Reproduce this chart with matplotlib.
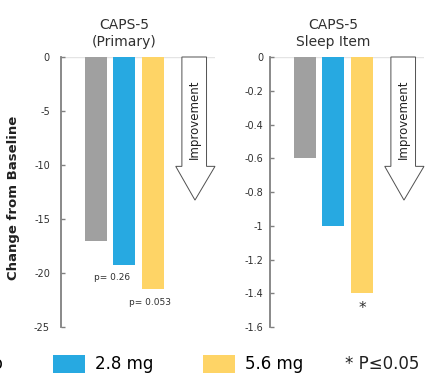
import matplotlib
matplotlib.use('Agg')
import matplotlib.pyplot as plt
from matplotlib.patches import Polygon

# data
groups = ['Placebo', '2.8 mg', '5.6 mg']
colors = ['#a0a0a0', '#27a9e1', '#fed466']
caps_primary = [-17.0, -19.3, -21.5]
caps_sleep = [-0.6, -1.0, -1.4]
primary_ticks = [0, -5, -10, -15, -20, -25]
sleep_ticks = [0, -0.2, -0.4, -0.6, -0.8, -1, -1.2, -1.4, -1.6]
pvals = ['p= 0.26', 'p= 0.053']

fig = plt.figure(figsize=(4.26, 3.81), dpi=100)
ax1 = fig.add_axes([0.1432, 0.1417, 0.3615, 0.7087])
ax2 = fig.add_axes([0.6338, 0.1417, 0.3615, 0.7087])

x = [1, 2, 3]


def arrow(ax):
    # hollow "Improvement" arrow, drawn in axes fraction
    bx0, bx1 = 0.785, 0.945
    hx0, hx1 = 0.745, 1.0
    tip = 0.87
    pts = [(bx0, 1.0), (bx1, 1.0), (bx1, 0.595), (hx1, 0.595),
           (tip, 0.47), (hx0, 0.595), (bx0, 0.595)]
    ax.add_patch(Polygon(pts, closed=True, facecolor='white',
                         edgecolor='#505050', lw=0.7,
                         transform=ax.transAxes, clip_on=False, zorder=3))
    ax.text((bx0 + bx1) / 2, 0.77, 'Improvement', rotation=90,
            ha='center', va='center', fontsize=8.5, color='#202020',
            transform=ax.transAxes, zorder=4)


def style(ax, ticks, lim, labels):
    ax.set_xlim(-0.24, 5.2)
    ax.set_ylim(lim, 0)
    ax.set_yticks(ticks)
    ax.set_yticklabels(labels)
    ax.set_xticks([])
    for s in ['top', 'right', 'bottom']:
        ax.spines[s].set_visible(False)
    ax.spines['left'].set_color('#808080')
    ax.spines['left'].set_linewidth(1.3)
    ax.tick_params(axis='y', direction='in', length=3, width=1,
                   color='#808080', labelsize=7, labelcolor='#303030')
    ax.axhline(0, color='#e4e4e4', lw=1, zorder=0)


bars1 = ax1.bar(x, caps_primary, width=0.78, color=colors, zorder=2)
bars2 = ax2.bar(x, caps_sleep, width=0.78, color=colors, zorder=2)

style(ax1, primary_ticks, -25, [str(t) for t in primary_ticks])
style(ax2, sleep_ticks, -1.6, [f'{t:g}' for t in sleep_ticks])
ax1.tick_params(axis='y', pad=8)
ax2.tick_params(axis='y', pad=5)

arrow(ax1)
arrow(ax2)

ax1.text(2, 1.03, 'CAPS-5\n(Primary)', transform=ax1.get_xaxis_transform(),
         ha='center', va='bottom', fontsize=10, color='#303030',
         linespacing=1.25)
ax2.text(2, 1.03, 'CAPS-5\nSleep Item', transform=ax2.get_xaxis_transform(),
         ha='center', va='bottom', fontsize=10, color='#303030',
         linespacing=1.25)

ax1.text(1.57, caps_primary[1] - 1.1, pvals[0], ha='center', va='center',
         fontsize=6.5, color='#303030')
ax1.text(2.91, caps_primary[2] - 1.2, pvals[1], ha='center', va='center',
         fontsize=6.5, color='#303030')
ax2.text(3.03, caps_sleep[2] - 0.09, '*', ha='center', va='center',
         fontsize=11, color='#303030')

ax1.set_ylabel('Change from Baseline', fontsize=9.5, fontweight='bold',
               color='#202020')
ax1.yaxis.set_label_coords(-0.266, 0.48)

fig.legend(bars1.patches, groups, loc='center right',
           bbox_to_anchor=(303 / 426, 17 / 381), ncol=3, frameon=False,
           fontsize=12, handlelength=1.9, handleheight=1.3,
           handletextpad=0.6, columnspacing=3.0, borderpad=0,
           borderaxespad=0)
fig.text(345 / 426, 17 / 381, '* P≤0.05', ha='left', va='center',
         fontsize=12, color='#202020')

fig.savefig('out.png', dpi=100)
